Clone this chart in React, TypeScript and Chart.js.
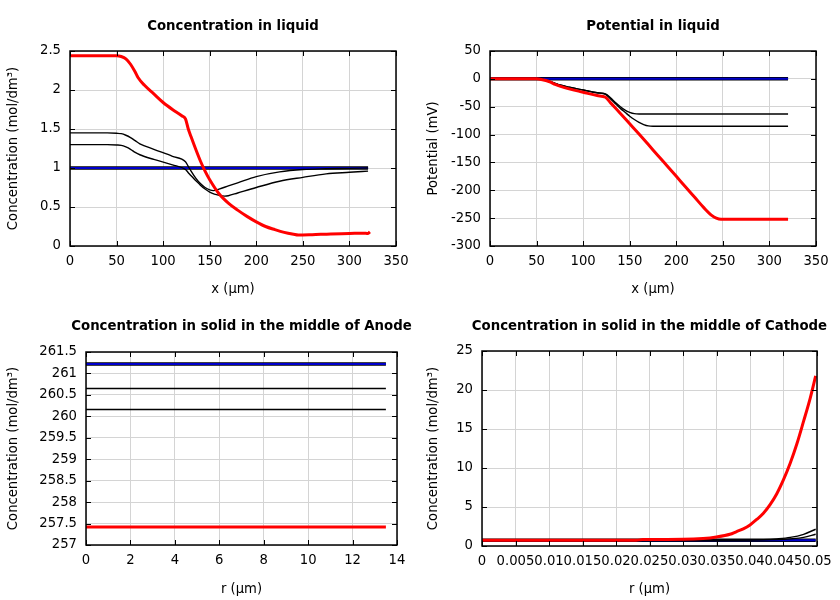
import React, { useEffect, useRef } from "react";
import { Chart, registerables } from "chart.js";

Chart.register(...registerables);

const FONT = "'DejaVu Sans', sans-serif";
const RED = "#ff0000";
const BLUE = "#0000cc";
const BLACK = "#000000";

// ---------- Panel 1: Concentration in liquid ----------
const liqRedX = [0, 50, 55, 60, 65, 70, 73, 80, 90, 100, 110, 120, 124, 127, 130, 135, 140, 145, 150, 160, 170, 180, 190, 200, 210, 220, 230, 240, 245, 260, 280, 300, 315, 320, 322];
const liqRedY = [2.44, 2.44, 2.43, 2.40, 2.33, 2.23, 2.16, 2.06, 1.95, 1.84, 1.75, 1.67, 1.63, 1.50, 1.40, 1.24, 1.09, 0.96, 0.85, 0.67, 0.55, 0.46, 0.38, 0.31, 0.25, 0.21, 0.175, 0.15, 0.14, 0.145, 0.155, 0.16, 0.165, 0.16, 0.18];
const liqBlackAX = [0, 40, 50, 55, 60, 65, 70, 75, 90, 110, 124, 127, 130, 135, 140, 145, 150, 154, 160, 170, 180, 200, 225, 250, 275, 300, 320];
const liqBlackAY = [1.45, 1.45, 1.445, 1.44, 1.42, 1.39, 1.35, 1.31, 1.24, 1.15, 1.08, 1.02, 0.96, 0.87, 0.80, 0.75, 0.72, 0.71, 0.73, 0.77, 0.81, 0.89, 0.95, 0.98, 0.99, 0.995, 1.0];
const liqBlackBX = [0, 40, 50, 55, 60, 65, 70, 75, 90, 110, 124, 127, 130, 135, 140, 145, 150, 155, 160, 166, 170, 180, 200, 225, 250, 275, 300, 320];
const liqBlackBY = [1.30, 1.30, 1.295, 1.29, 1.27, 1.24, 1.20, 1.17, 1.11, 1.04, 0.98, 0.94, 0.90, 0.84, 0.78, 0.73, 0.69, 0.665, 0.65, 0.64, 0.645, 0.68, 0.75, 0.83, 0.88, 0.925, 0.945, 0.96];
const liqInitX = [0, 320];
const liqInitY = [1.0, 1.0];

// ---------- Panel 2: Potential in liquid ----------
const potRedX = [0, 50, 55, 60, 65, 70, 75, 85, 100, 115, 124, 130, 140, 150, 160, 170, 180, 190, 200, 210, 220, 230, 238, 243, 248, 260, 290, 320];
const potRedY = [0, 0, -1, -3, -6, -10, -13, -18, -24, -30, -33, -44, -62, -80.5, -99, -118, -137, -156, -175, -194, -213, -232, -245, -250, -252, -252, -252, -252];
const potBlackAX = [0, 50, 55, 60, 65, 70, 75, 85, 100, 115, 124, 130, 135, 140, 145, 150, 155, 160, 320];
const potBlackAY = [0, 0, -1, -2, -5, -8, -11, -15, -20, -25, -27, -35, -43, -50, -56, -60, -62.5, -63, -63];
const potBlackBX = [0, 50, 55, 60, 65, 70, 75, 85, 100, 115, 124, 130, 135, 140, 145, 150, 155, 160, 165, 170, 175, 320];
const potBlackBY = [0, 0, -1, -2, -5, -8, -11, -15, -20, -25, -28, -37, -45, -53, -60, -67, -73, -78, -82, -84.5, -85, -85];
const potInitX = [0, 320];
const potInitY = [0, 0];

// ---------- Panel 3: Concentration in solid, anode ----------
const anodeX = [0, 13.5];
const anodeInitY = [261.22, 261.22];
const anodeBlackAY = [260.65, 260.65];
const anodeBlackBY = [260.16, 260.16];
const anodeRedY = [257.42, 257.42];

// ---------- Panel 4: Concentration in solid, cathode ----------
const cathRedX = [0, 0.023, 0.024, 0.03, 0.033, 0.035, 0.037, 0.038, 0.039, 0.04, 0.041, 0.042, 0.043, 0.044, 0.045, 0.046, 0.047, 0.048, 0.049, 0.0498];
const cathRedY = [0.75, 0.75, 0.82, 0.85, 0.95, 1.15, 1.5, 1.85, 2.2, 2.7, 3.4, 4.2, 5.3, 6.7, 8.5, 10.6, 13.1, 16.0, 19.0, 21.8];
const cathBlackAX = [0, 0.038, 0.042, 0.044, 0.046, 0.048, 0.0498];
const cathBlackAY = [0.75, 0.76, 0.82, 0.92, 1.1, 1.5, 2.15];
const cathBlackBX = [0, 0.04, 0.044, 0.046, 0.048, 0.0498];
const cathBlackBY = [0.75, 0.76, 0.82, 0.92, 1.1, 1.5];
const cathInitX = [0, 0.0498];
const cathInitY = [0.75, 0.75];

type Series = { xs: number[]; ys: number[]; color: string; width: number; order: number };

type Panel = {
  left: number; top: number; width: number; height: number;
  area: [number, number, number, number];
  title: string; xTitle: string; yTitle: string;
  xMin: number; xMax: number; xStep: number;
  yMin: number; yMax: number; yStep: number;
  series: Series[];
};

const initSeries = (xs: number[], ys: number[]): Series[] => [
  { xs, ys, color: BLACK, width: 3.5, order: 4 },
  { xs, ys, color: BLUE, width: 2, order: 3 },
];

const CONC = "Concentration (mol/dm³)";

const panels: Panel[] = [
  {
    left: 0, top: 0, width: 420, height: 300, area: [70, 51, 396, 246],
    title: "Concentration in liquid", xTitle: "x (µm)", yTitle: CONC,
    xMin: 0, xMax: 350, xStep: 50, yMin: 0, yMax: 2.5, yStep: 0.5,
    series: [
      ...initSeries(liqInitX, liqInitY),
      { xs: liqBlackAX, ys: liqBlackAY, color: BLACK, width: 1.4, order: 2 },
      { xs: liqBlackBX, ys: liqBlackBY, color: BLACK, width: 1.4, order: 2 },
      { xs: liqRedX, ys: liqRedY, color: RED, width: 3, order: 0 },
    ],
  },
  {
    left: 420, top: 0, width: 420, height: 300, area: [70, 51, 396, 246],
    title: "Potential in liquid", xTitle: "x (µm)", yTitle: "Potential (mV)",
    xMin: 0, xMax: 350, xStep: 50, yMin: -300, yMax: 50, yStep: 50,
    series: [
      ...initSeries(potInitX, potInitY),
      { xs: potBlackAX, ys: potBlackAY, color: BLACK, width: 1.4, order: 2 },
      { xs: potBlackBX, ys: potBlackBY, color: BLACK, width: 1.4, order: 2 },
      { xs: potRedX, ys: potRedY, color: RED, width: 3, order: 0 },
    ],
  },
  {
    left: 0, top: 300, width: 420, height: 300, area: [86, 52, 397, 245],
    title: "Concentration in solid in the middle of Anode", xTitle: "r (µm)", yTitle: CONC,
    xMin: 0, xMax: 14, xStep: 2, yMin: 257, yMax: 261.5, yStep: 0.5,
    series: [
      ...initSeries(anodeX, anodeInitY),
      { xs: anodeX, ys: anodeBlackAY, color: BLACK, width: 1.4, order: 2 },
      { xs: anodeX, ys: anodeBlackBY, color: BLACK, width: 1.4, order: 2 },
      { xs: anodeX, ys: anodeRedY, color: RED, width: 3, order: 0 },
    ],
  },
  {
    left: 420, top: 300, width: 420, height: 300, area: [62, 51, 397, 246],
    title: "Concentration in solid in the middle of Cathode", xTitle: "r (µm)", yTitle: CONC,
    xMin: 0, xMax: 0.05, xStep: 0.005, yMin: 0, yMax: 25, yStep: 5,
    series: [
      ...initSeries(cathInitX, cathInitY),
      { xs: cathBlackAX, ys: cathBlackAY, color: BLACK, width: 1.4, order: 2 },
      { xs: cathBlackBX, ys: cathBlackBY, color: BLACK, width: 1.4, order: 2 },
      { xs: cathRedX, ys: cathRedY, color: RED, width: 3, order: 0 },
    ],
  },
];

const fmt = (v: number | string) => {
  const n = typeof v === "number" ? v : parseFloat(v);
  return String(Number(n.toFixed(6)));
};

function makeFrame(title: string) {
  return {
    id: "frame",
    afterDraw(chart: any) {
      const { ctx, chartArea: a, scales } = chart;
      ctx.save();
      ctx.strokeStyle = "#000";
      ctx.lineWidth = 1;
      const L = 5;
      ctx.beginPath();
      scales.x.ticks.forEach((t: any) => {
        const px = Math.round(scales.x.getPixelForValue(t.value)) + 0.5;
        ctx.moveTo(px, a.bottom);
        ctx.lineTo(px, a.bottom - L);
        ctx.moveTo(px, a.top);
        ctx.lineTo(px, a.top + L);
      });
      scales.y.ticks.forEach((t: any) => {
        const py = Math.round(scales.y.getPixelForValue(t.value)) + 0.5;
        ctx.moveTo(a.left, py);
        ctx.lineTo(a.left + L, py);
        ctx.moveTo(a.right, py);
        ctx.lineTo(a.right - L, py);
      });
      ctx.stroke();
      ctx.lineWidth = 1.5;
      ctx.strokeRect(a.left, a.top, a.right - a.left, a.bottom - a.top);
      ctx.fillStyle = "#000";
      ctx.font = `bold 13.3px ${FONT}`;
      ctx.textAlign = "center";
      ctx.textBaseline = "middle";
      ctx.fillText(title, (a.left + a.right) / 2, 26.5);
      ctx.restore();
    },
  };
}

function PanelChart({ p }: { p: Panel }) {
  const ref = useRef<HTMLCanvasElement | null>(null);
  useEffect(() => {
    if (!ref.current) return;
    const [l, t, r, b] = p.area;
    const font = { family: FONT, size: 13.2 };
    const chart = new Chart(ref.current, {
      type: "line",
      data: {
        datasets: p.series.map((s) => ({
          data: s.xs.map((x, i) => ({ x, y: s.ys[i] })),
          borderColor: s.color,
          backgroundColor: s.color,
          borderWidth: s.width,
          pointRadius: 0,
          fill: false,
          cubicInterpolationMode: "monotone" as const,
          order: s.order,
        })),
      },
      options: {
        responsive: false,
        animation: false,
        devicePixelRatio: 1,
        layout: { padding: { left: 0, top: t, right: p.width - r, bottom: 0 } },
        plugins: { legend: { display: false }, title: { display: false }, tooltip: { enabled: false } },
        scales: {
          x: {
            type: "linear",
            min: p.xMin,
            max: p.xMax,
            ticks: {
              stepSize: p.xStep,
              autoSkip: false,
              maxRotation: 0,
              minRotation: 0,
              padding: 8,
              color: "#000",
              font,
              callback: (v: any) => fmt(v),
            },
            grid: { color: "#d4d4d4", lineWidth: 1, drawTicks: false },
            border: { display: false },
            title: { display: true, text: p.xTitle, color: "#000", font, padding: { top: 0, bottom: 3 } },
            afterFit: (s: any) => { s.height = p.height - b; },
          },
          y: {
            type: "linear",
            min: p.yMin,
            max: p.yMax,
            ticks: {
              stepSize: p.yStep,
              autoSkip: false,
              padding: 9,
              color: "#000",
              font,
              callback: (v: any) => fmt(v),
            },
            grid: { color: "#d4d4d4", lineWidth: 1, drawTicks: false },
            border: { display: false },
            title: { display: true, text: p.yTitle, color: "#000", font, padding: { top: 6, bottom: 0 } },
            afterFit: (s: any) => { s.width = l; },
          },
        },
      },
      plugins: [makeFrame(p.title)],
    } as any);
    return () => chart.destroy();
  }, [p]);
  return (
    <canvas
      ref={ref}
      width={p.width}
      height={p.height}
      style={{ position: "absolute", left: p.left, top: p.top, width: p.width, height: p.height, display: "block" }}
    />
  );
}

export default function App() {
  return (
    <div style={{ position: "absolute", left: 0, top: 0, width: 840, height: 600, background: "#fff" }}>
      {panels.map((p, i) => (
        <PanelChart key={i} p={p} />
      ))}
    </div>
  );
}
